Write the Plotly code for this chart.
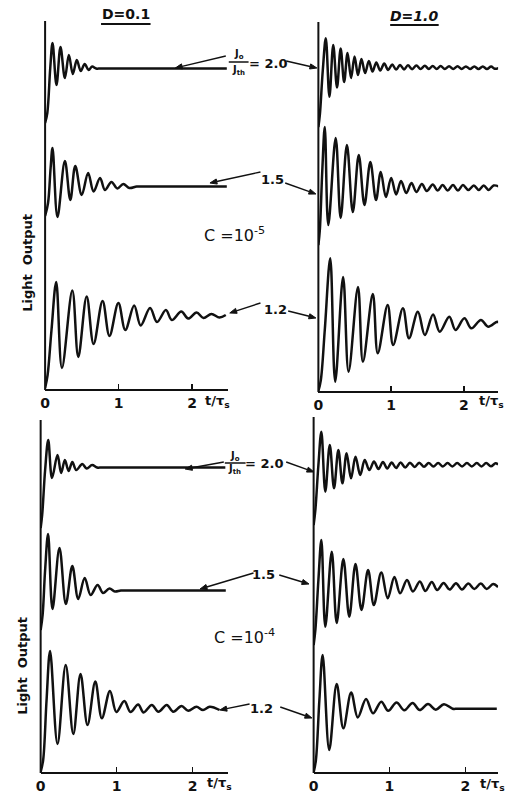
import math
import plotly.graph_objects as go

W, H = 507, 796

# ---------------- data (t/tau_s, light output in arbitrary units) ----------------
tick_vals = [0, 1, 2]
tick_text = ["0", "1", "2"]
ratio_labels = ["2.0", "1.5", "1.2"]

# D = 0.1, C = 1e-5
t_a20 = [0, 0.03, 0.07, 0.101, 0.155, 0.209, 0.269, 0.323, 0.377, 0.431, 0.485, 0.538, 0.592, 0.639, 0.693, 0.76, 1.5, 2.47]
L_a20 = [0, 1.0, 5.5, 8.0, 3.8, 7.6, 4.5, 6.8, 4.9, 6.3, 5.2, 5.9, 5.3, 5.65, 5.45, 5.45, 5.45, 5.45]
t_a15 = [0, 0.04, 0.075, 0.101, 0.168, 0.269, 0.343, 0.410, 0.498, 0.585, 0.659, 0.747, 0.814, 0.902, 0.982,
         1.063, 1.144, 1.245, 1.32, 1.9, 2.47]
L_a15 = [0.2, 1.5, 5.0, 7.0, 0.1, 5.7, 1.8, 5.2, 2.3, 4.5, 2.65, 4.0, 2.8, 3.6, 2.95,
         3.4, 3.0, 3.15, 3.15, 3.15, 3.15]
t_a12 = [0, 0.034, 0.087, 0.151, 0.229, 0.370, 0.451, 0.565, 0.659, 0.781, 0.875, 0.996, 1.090, 1.211, 1.299,
         1.427, 1.521, 1.642, 1.723, 1.851, 1.945, 2.059, 2.153, 2.261, 2.369, 2.456]
L_a12 = [0, 1.3, 5.8, 10.6, 2.0, 9.75, 3.1, 9.15, 4.4, 8.7, 5.2, 8.5, 5.8, 8.25, 6.25,
         8.0, 6.6, 7.8, 6.8, 7.65, 6.95, 7.55, 7.0, 7.4, 7.05, 7.3]

# D = 1.0, C = 1e-5
t_b20 = [0, 0.020, 0.061, 0.102, 0.152, 0.204, 0.256, 0.306, 0.354, 0.401, 0.449, 0.497, 0.544, 0.592, 0.642,
         0.694, 0.744, 0.796, 0.850, 0.905, 0.959, 1.014, 1.068, 1.122, 1.177, 1.231, 1.288, 1.347, 1.404,
         1.463, 1.517, 1.571, 1.626, 1.680, 1.737, 1.796, 1.853, 1.912, 1.969, 2.027, 2.084, 2.143, 2.200,
         2.259, 2.316, 2.374, 2.422, 2.483]
L_b20 = [0, 1.2, 5.7, 8.87, 3.03, 8.2, 3.95, 7.85, 4.5, 7.4, 4.9, 7.05, 5.2, 6.8, 5.4,
         6.6, 5.55, 6.45, 5.65, 6.35, 5.7, 6.25, 5.74, 6.2, 5.76, 6.17, 5.78, 6.15, 5.8,
         6.12, 5.8, 6.1, 5.8, 6.1, 5.8, 6.08, 5.8, 6.07, 5.8, 6.06, 5.8, 6.05, 5.8,
         6.05, 5.8, 6.04, 5.82, 5.92]
t_b15 = [0, 0.020, 0.054, 0.088, 0.136, 0.238, 0.306, 0.392, 0.473, 0.555, 0.633, 0.714, 0.792, 0.857, 0.928,
         1.000, 1.068, 1.136, 1.208, 1.279, 1.347, 1.422, 1.490, 1.571, 1.639, 1.707, 1.776, 1.850, 1.918,
         1.986, 2.061, 2.136, 2.204, 2.272, 2.340, 2.408, 2.483]
L_b15 = [0, 1.5, 7.5, 11.8, 2.0, 10.7, 2.7, 10.0, 3.3, 9.0, 4.0, 8.3, 4.5, 7.3, 4.8,
         6.7, 5.05, 6.4, 5.2, 6.2, 5.3, 6.1, 5.4, 6.05, 5.45, 6.0, 5.45, 6.0, 5.45,
         6.0, 5.5, 5.95, 5.5, 5.95, 5.5, 5.95, 5.85]
t_b12 = [0, 0.034, 0.088, 0.163, 0.231, 0.340, 0.415, 0.544, 0.612, 0.748, 0.816, 0.952, 1.027, 1.162, 1.245,
         1.367, 1.463, 1.576, 1.667, 1.799, 1.884, 2.007, 2.102, 2.234, 2.333, 2.459, 2.483]
L_b12 = [0, 1.1, 6.1, 13.27, 0.93, 11.4, 1.93, 10.4, 2.93, 9.7, 3.77, 8.6, 4.6, 8.27, 5.27,
         7.93, 5.6, 7.65, 5.93, 7.43, 6.1, 7.27, 6.27, 7.1, 6.43, 6.93, 6.8]

# D = 0.1, C = 1e-4
t_c20 = [0, 0.020, 0.059, 0.100, 0.150, 0.222, 0.270, 0.319, 0.368, 0.417, 0.469, 0.548, 0.606, 0.678, 0.743,
         0.81, 1.6, 2.432]
L_c20 = [0, 1.3, 5.8, 8.8, 5.0, 7.3, 5.5, 6.8, 5.7, 6.6, 5.8, 6.4, 5.95, 6.3, 6.05,
         6.05, 6.05, 6.05]
t_c15 = [0, 0.026, 0.059, 0.098, 0.156, 0.248, 0.332, 0.417, 0.495, 0.580, 0.658, 0.750, 0.821, 0.906, 0.978,
         1.056, 1.13, 1.8, 2.438]
L_c15 = [0, 1.5, 6.0, 9.6, 2.1, 8.2, 2.6, 6.4, 3.1, 5.2, 3.5, 4.5, 3.7, 4.15, 3.85,
         3.95, 3.95, 3.95, 3.95]
t_c12 = [0, 0.033, 0.078, 0.124, 0.222, 0.330, 0.430, 0.525, 0.617, 0.720, 0.806, 0.913, 0.997, 1.102, 1.183,
         1.284, 1.356, 1.464, 1.551, 1.660, 1.747, 1.855, 1.943, 2.051, 2.138, 2.226, 2.356]
L_c12 = [0, 1.2, 7.2, 12.1, 2.8, 10.7, 3.8, 9.8, 4.7, 9.05, 5.37, 8.1, 6.0, 7.1, 6.0,
         6.75, 5.95, 6.7, 6.03, 6.7, 6.03, 6.6, 6.13, 6.53, 6.2, 6.53, 6.2]

# D = 1.0, C = 1e-4
t_d20 = [0, 0.023, 0.063, 0.102, 0.154, 0.213, 0.269, 0.326, 0.380, 0.435, 0.493, 0.552, 0.614, 0.674, 0.735,
         0.796, 0.855, 0.914, 0.971, 1.029, 1.087, 1.146, 1.208, 1.270, 1.332, 1.392, 1.456, 1.517, 1.580,
         1.642, 1.704, 1.766, 1.829, 1.893, 1.957, 2.021, 2.086, 2.151, 2.213, 2.275, 2.337, 2.398, 2.432]
L_d20 = [0, 1.5, 6.0, 9.33, 3.33, 8.0, 3.67, 7.5, 4.17, 7.17, 4.67, 6.83, 5.0, 6.5, 5.5,
         6.35, 5.6, 6.3, 5.65, 6.25, 5.7, 6.25, 5.75, 6.23, 5.8, 6.23, 5.82, 6.2, 5.85,
         6.2, 5.85, 6.2, 5.85, 6.2, 5.85, 6.2, 5.85, 6.2, 5.85, 6.2, 5.87, 6.17, 6.05]
t_d15 = [0, 0.023, 0.063, 0.102, 0.154, 0.239, 0.304, 0.392, 0.470, 0.552, 0.631, 0.718, 0.794, 0.892, 0.977,
         1.065, 1.140, 1.231, 1.309, 1.401, 1.473, 1.558, 1.629, 1.714, 1.792, 1.877, 1.956, 2.040, 2.119,
         2.204, 2.282, 2.367, 2.432]
L_d15 = [0, 1.5, 6.5, 10.5, 1.83, 9.33, 2.2, 8.6, 2.83, 8.1, 3.5, 7.5, 4.0, 7.25, 4.67,
         6.8, 5.17, 6.5, 5.35, 6.35, 5.4, 6.3, 5.5, 6.2, 5.55, 6.17, 5.55, 6.15, 5.6,
         6.15, 5.6, 6.1, 5.8]
t_d12 = [0, 0.030, 0.076, 0.119, 0.206, 0.304, 0.392, 0.495, 0.582, 0.691, 0.783, 0.892, 0.983, 1.093, 1.196,
         1.305, 1.398, 1.508, 1.610, 1.718, 1.832, 1.9, 2.2, 2.415]
L_d12 = [0, 1.25, 7.25, 11.75, 2.25, 8.85, 4.42, 8.0, 5.5, 7.35, 5.92, 7.08, 6.17, 7.0, 6.22,
         6.95, 6.25, 6.85, 6.28, 6.83, 6.38, 6.38, 6.38, 6.38]

# ---------------- layout (pixel geometry of the page) ----------------
INK = "#111111"
FONT = "DejaVu Sans"

panels = [
    dict(x0=40.5, x1=225, ppu=74.3, axis_y=390, top=21,
         curves=[(t_a20, L_a20, 123), (t_a15, L_a15, 218), (t_a12, L_a12, 388)]),
    dict(x0=316.5, x1=498, ppu=73.5, axis_y=392, top=22,
         curves=[(t_b20, L_b20, 127), (t_b15, L_b15, 245), (t_b12, L_b12, 391)]),
    dict(x0=36, x1=225, ppu=76.7, axis_y=773, top=420,
         curves=[(t_c20, L_c20, 528), (t_c15, L_c15, 630), (t_c12, L_c12, 772)]),
    dict(x0=311.7, x1=498, ppu=76.6, axis_y=773, top=417,
         curves=[(t_d20, L_d20, 525), (t_d15, L_d15, 645), (t_d12, L_d12, 772.5)]),
]


def px(x):
    return x / W


def py(y):
    return 1 - y / H


fig = go.Figure()
layout = dict(width=W, height=H, margin=dict(l=0, r=0, t=0, b=0),
              paper_bgcolor="white", plot_bgcolor="rgba(0,0,0,0)", showlegend=False)
shapes = []
yi = 0
for pi, p in enumerate(panels):
    xname = "x" if pi == 0 else f"x{pi + 1}"
    xkey = "xaxis" if pi == 0 else f"xaxis{pi + 1}"
    layout[xkey] = dict(
        domain=[px(p["x0"]), px(p["x1"])],
        range=[0, (p["x1"] - p["x0"]) / p["ppu"]],
        anchor="free", position=py(p["axis_y"]),
        showline=True, linewidth=2, linecolor=INK,
        ticks="inside", ticklen=5, tickwidth=1.6, tickcolor=INK,
        tickvals=tick_vals, ticktext=[f"<b>{s}</b>" for s in tick_text],
        tickfont=dict(family=FONT, size=14, color=INK),
        showgrid=False, zeroline=False, fixedrange=True,
    )
    shapes.append(dict(type="line", xref="paper", yref="paper",
                       x0=px(p["x0"]), x1=px(p["x0"]), y0=py(p["axis_y"]), y1=py(p["top"]),
                       line=dict(color=INK, width=2)))
    for (t, v, base) in p["curves"]:
        yi += 1
        yname = "y" if yi == 1 else f"y{yi}"
        ykey = "yaxis" if yi == 1 else f"yaxis{yi}"
        layout[ykey] = dict(domain=[0, 1], range=[(base - H) / 10, base / 10],
                            visible=False, anchor=xname, fixedrange=True)
        fig.add_trace(go.Scatter(x=t, y=v, mode="lines", xaxis=xname, yaxis=yname,
                                 line=dict(color=INK, width=2.5, shape="spline", smoothing=1.0),
                                 hoverinfo="skip"))

ann = []


def text(x, y, s, size=13, angle=0):
    ann.append(dict(xref="paper", yref="paper", x=px(x), y=py(y), text=s, showarrow=False,
                    xanchor="center", yanchor="middle", textangle=angle,
                    font=dict(family=FONT, size=size, color=INK)))


def arrow(tail, head, L=7.0, w=2.6):
    dx, dy = head[0] - tail[0], head[1] - tail[1]
    n = math.hypot(dx, dy)
    ux, uy = dx / n, dy / n
    bx, by = head[0] - L * ux, head[1] - L * uy
    shapes.append(dict(type="line", xref="paper", yref="paper",
                       x0=px(tail[0]), y0=py(tail[1]), x1=px(bx), y1=py(by),
                       line=dict(color=INK, width=1.4)))
    pts = [(head[0], head[1]), (bx - w * uy, by + w * ux), (bx + w * uy, by - w * ux)]
    path = "M " + " L ".join(f"{px(a):.5f},{py(b):.5f}" for a, b in pts) + " Z"
    shapes.append(dict(type="path", xref="paper", yref="paper", path=path,
                       fillcolor=INK, line=dict(color=INK, width=1)))


# column titles
text(122, 14, "<b>D=0.1</b>", 14)
text(413, 16, "<b><i>D=1.0</i></b>", 14)
shapes.append(dict(type="line", xref="paper", yref="paper", x0=px(97), x1=px(147), y0=py(24), y1=py(24),
                   line=dict(color=INK, width=2)))
shapes.append(dict(type="line", xref="paper", yref="paper", x0=px(389), x1=px(438), y0=py(25), y1=py(25),
                   line=dict(color=INK, width=2)))

# top half
text(236, 54, "<b>J<sub>o</sub></b>", 10)
text(236, 70, "<b>J<sub>th</sub></b>", 10)
shapes.append(dict(type="line", xref="paper", yref="paper", x0=px(226), x1=px(246), y0=py(62), y1=py(62),
                   line=dict(color=INK, width=1.5)))
text(266, 63, f"<b>= {ratio_labels[0]}</b>", 13)
arrow((223, 56), (172, 68))
arrow((284, 61), (315, 68))
text(270, 180, f"<b>{ratio_labels[1]}</b>", 13)
arrow((258, 172), (207, 183))
arrow((283, 183), (314, 194))
text(232, 234, "C =10<sup>-5</sup>", 16)
text(273, 309, f"<b>{ratio_labels[2]}</b>", 13)
arrow((258, 303), (227, 313))
arrow((286, 311), (314, 318))

# bottom half
text(232, 456, "<b>J<sub>o</sub></b>", 10)
text(232, 470, "<b>J<sub>th</sub></b>", 10)
shapes.append(dict(type="line", xref="paper", yref="paper", x0=px(222), x1=px(243), y0=py(463), y1=py(463),
                   line=dict(color=INK, width=1.5)))
text(262, 463, f"<b>= {ratio_labels[0]}</b>", 13)
arrow((221, 462), (182, 469))
arrow((284, 462), (312, 472))
text(261, 574, f"<b>{ratio_labels[1]}</b>", 13)
arrow((251, 573), (197, 589))
arrow((277, 575), (307, 584))
text(242, 636, "C =10<sup>-4</sup>", 16)
text(259, 708, f"<b>{ratio_labels[2]}</b>", 13)
arrow((247, 704), (217, 710))
arrow((278, 707), (310, 718))

# axis titles
text(22, 263, "<b>Light  Output</b>", 13, angle=-90)
text(17, 666, "<b>Light  Output</b>", 13, angle=-90)
for (x, y) in [(215, 401), (491, 401), (217, 783), (492, 784)]:
    text(x, y, "<b>t/τ<sub>s</sub></b>", 13)

layout["annotations"] = ann
layout["shapes"] = shapes
fig.update_layout(**layout)
fig.write_html("out.html", config={"displayModeBar": False, "staticPlot": True},
               post_script="document.body.style.margin='0';document.body.style.padding='0';"
                           "document.body.style.overflow='hidden';")
